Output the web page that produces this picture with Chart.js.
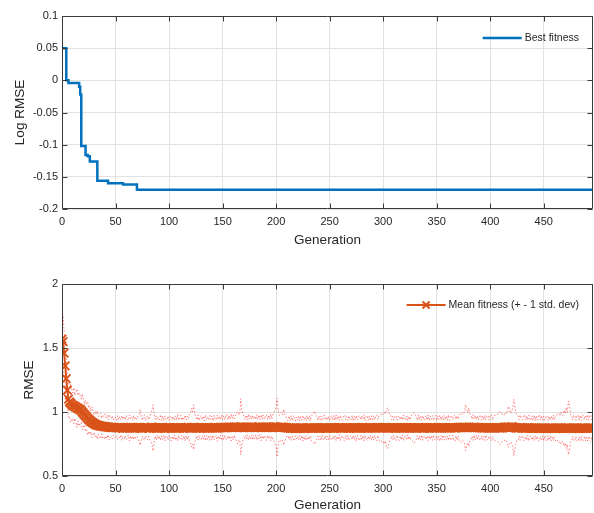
<!DOCTYPE html>
<html><head><meta charset="utf-8">
<script src="https://cdn.jsdelivr.net/npm/chart.js@4.4.1/dist/chart.umd.min.js"></script>
<style>html,body{margin:0;padding:0;background:#fff;width:594px;height:513px;overflow:hidden;} canvas{position:absolute;left:0;display:block;}</style>
</head><body>
<canvas id="c1" width="594" height="256" style="top:0"></canvas>
<canvas id="c2" width="594" height="257" style="top:256px"></canvas>
<script>
// ---------- data ----------
const xTicks = [0, 50, 100, 150, 200, 250, 300, 350, 400, 450];
const xLabels = ['0', '50', '100', '150', '200', '250', '300', '350', '400', '450'];
const topYTicks = [-0.2, -0.15, -0.1, -0.05, 0, 0.05, 0.1];
const topYLabels = ['-0.2', '-0.15', '-0.1', '-0.05', '0', '0.05', '0.1'];
const bottomYTicks = [0.5, 1, 1.5, 2];
const bottomYLabels = ['0.5', '1', '1.5', '2'];

// best fitness: generation where value changes, and the value (log RMSE)
const bestGen = [0, 4, 6, 16, 17, 18, 22, 24, 26, 33, 43, 57, 70, 496];
const bestVal = [0.05, 0.0, -0.004, -0.01, -0.022, -0.102, -0.116, -0.118, -0.126, -0.156, -0.160, -0.162, -0.170, -0.170];

// mean fitness per generation (RMSE)
const meanFitness = [
1.57,1.55,1.46,1.36,1.26,1.17,1.10,1.08,1.07,1.06,
1.05,1.05,1.04,1.04,1.03,1.03,1.02,1.02,1.01,1.00,
0.99,0.98,0.97,0.96,0.95,0.94,0.935,0.925,0.92,0.915,
0.91,0.905,0.90,0.898,0.895,0.892,0.89,0.889,0.887,0.886,
0.885,0.884,0.883,0.882,0.881,0.880,0.879,0.880,0.878,0.879,
0.878,0.876,0.879,0.874,0.877,0.880,0.875,0.873,0.878,0.876,
0.879,0.874,0.877,0.875,0.881,0.876,0.873,0.878,0.875,0.877,
0.874,0.879,0.876,0.880,0.875,0.873,0.877,0.879,0.874,0.876,
0.878,0.875,0.873,0.879,0.882,0.876,0.874,0.877,0.875,0.878,
0.873,0.876,0.879,0.874,0.877,0.875,0.872,0.878,0.876,0.874,
0.877,0.879,0.873,0.876,0.874,0.878,0.875,0.872,0.877,0.876,
0.874,0.879,0.876,0.873,0.878,0.875,0.877,0.874,0.880,0.876,
0.873,0.878,0.875,0.881,0.877,0.874,0.876,0.879,0.875,0.873,
0.877,0.875,0.878,0.874,0.876,0.879,0.873,0.877,0.875,0.878,
0.876,0.874,0.879,0.875,0.877,0.873,0.878,0.876,0.880,0.877,
0.879,0.876,0.881,0.878,0.880,0.877,0.882,0.879,0.881,0.878,
0.880,0.883,0.879,0.881,0.878,0.882,0.880,0.884,0.879,0.881,
0.878,0.880,0.882,0.879,0.881,0.877,0.880,0.883,0.879,0.881,
0.878,0.882,0.880,0.879,0.883,0.881,0.878,0.880,0.882,0.879,
0.881,0.878,0.880,0.883,0.879,0.881,0.878,0.882,0.885,0.880,
0.882,0.879,0.881,0.878,0.880,0.883,0.879,0.881,0.877,0.880,
0.876,0.874,0.877,0.873,0.875,0.872,0.876,0.874,0.871,0.875,
0.873,0.876,0.872,0.874,0.877,0.873,0.875,0.871,0.874,0.876,
0.873,0.877,0.874,0.876,0.872,0.875,0.878,0.874,0.876,0.873,
0.877,0.875,0.873,0.876,0.874,0.878,0.875,0.872,0.876,0.874,
0.877,0.874,0.876,0.873,0.878,0.875,0.877,0.874,0.876,0.879,
0.875,0.873,0.877,0.874,0.876,0.878,0.874,0.877,0.875,0.873,
0.876,0.878,0.874,0.877,0.875,0.873,0.878,0.876,0.874,0.877,
0.875,0.879,0.876,0.874,0.877,0.875,0.873,0.878,0.876,0.874,
0.877,0.875,0.878,0.874,0.876,0.879,0.875,0.877,0.874,0.876,
0.878,0.875,0.880,0.876,0.874,0.877,0.875,0.878,0.876,0.874,
0.877,0.875,0.873,0.878,0.876,0.874,0.877,0.875,0.879,0.876,
0.874,0.877,0.875,0.878,0.876,0.873,0.877,0.875,0.878,0.876,
0.874,0.877,0.875,0.879,0.876,0.874,0.877,0.875,0.873,0.876,
0.878,0.875,0.877,0.874,0.876,0.879,0.875,0.877,0.874,0.876,
0.875,0.878,0.876,0.874,0.877,0.875,0.879,0.876,0.874,0.877,
0.875,0.878,0.876,0.874,0.877,0.879,0.876,0.874,0.878,0.876,
0.879,0.877,0.880,0.878,0.882,0.879,0.881,0.878,0.880,0.877,
0.881,0.878,0.880,0.877,0.879,0.882,0.878,0.880,0.877,0.879,
0.876,0.878,0.875,0.877,0.874,0.876,0.878,0.875,0.877,0.874,
0.876,0.878,0.875,0.877,0.874,0.876,0.879,0.875,0.877,0.874,
0.877,0.875,0.878,0.880,0.882,0.879,0.881,0.884,0.880,0.878,
0.885,0.881,0.879,0.877,0.875,0.877,0.874,0.876,0.878,0.875,
0.877,0.874,0.876,0.873,0.875,0.877,0.874,0.876,0.873,0.875,
0.872,0.875,0.873,0.876,0.874,0.872,0.875,0.873,0.876,0.874,
0.872,0.875,0.873,0.871,0.874,0.872,0.875,0.873,0.876,0.874,
0.872,0.875,0.873,0.876,0.874,0.872,0.875,0.873,0.871,0.874,
0.872,0.875,0.873,0.876,0.874,0.872,0.875,0.873,0.876,0.874,
0.872,0.875,0.873,0.871,0.874,0.872,0.875,0.873,0.876,0.874,
0.872,0.875,0.873,0.876,0.874,0.872,0.875
];

// standard deviation per generation
const stdFitness = [
0.20,0.21,0.17,0.15,0.16,0.13,0.14,0.11,0.15,0.12,
0.10,0.14,0.09,0.12,0.15,0.10,0.13,0.11,0.09,0.14,
0.11,0.08,0.12,0.10,0.13,0.09,0.11,0.08,0.12,0.09,
0.07,0.10,0.08,0.11,0.07,0.09,0.10,0.06,0.09,0.08,
0.10,0.07,0.09,0.06,0.10,0.08,0.07,0.09,0.06,0.08,
0.080,0.060,0.092,0.066,0.085,0.058,0.097,0.070,0.088,0.062,
0.094,0.072,0.057,0.101,0.068,0.090,0.061,0.096,0.065,0.083,
0.067,0.092,0.105,0.140,0.095,0.062,0.087,0.099,0.060,0.081,
0.093,0.064,0.089,0.110,0.130,0.180,0.115,0.066,0.094,0.059,
0.086,0.063,0.100,0.061,0.091,0.056,0.097,0.069,0.062,0.094,
0.058,0.084,0.099,0.063,0.090,0.057,0.095,0.066,0.104,0.060,
0.082,0.096,0.059,0.088,0.064,0.100,0.061,0.092,0.067,0.105,
0.115,0.150,0.125,0.175,0.105,0.090,0.062,0.098,0.058,0.086,
0.095,0.064,0.091,0.057,0.101,0.063,0.088,0.060,0.097,0.066,
0.093,0.056,0.096,0.069,0.061,0.103,0.064,0.090,0.059,0.099,
0.063,0.094,0.060,0.089,0.100,0.062,0.092,0.066,0.106,0.070,
0.096,0.064,0.090,0.110,0.125,0.105,0.095,0.220,0.145,0.098,
0.090,0.062,0.094,0.058,0.101,0.066,0.092,0.061,0.098,0.065,
0.089,0.060,0.099,0.064,0.093,0.057,0.102,0.065,0.094,0.062,
0.090,0.100,0.061,0.093,0.065,0.105,0.068,0.097,0.110,0.135,
0.160,0.230,0.125,0.095,0.105,0.115,0.098,0.140,0.105,0.092,
0.064,0.058,0.092,0.062,0.096,0.060,0.087,0.099,0.058,0.085,
0.063,0.094,0.057,0.090,0.061,0.100,0.064,0.092,0.059,0.097,
0.065,0.093,0.058,0.100,0.105,0.115,0.130,0.100,0.088,0.061,
0.092,0.063,0.095,0.058,0.087,0.098,0.061,0.090,0.064,0.095,
0.057,0.086,0.097,0.062,0.092,0.060,0.100,0.064,0.094,0.056,
0.099,0.065,0.060,0.093,0.102,0.062,0.089,0.058,0.096,0.066,
0.061,0.094,0.057,0.092,0.064,0.100,0.060,0.088,0.098,0.061,
0.093,0.064,0.103,0.059,0.089,0.099,0.062,0.092,0.058,0.096,
0.064,0.095,0.061,0.090,0.101,0.062,0.093,0.100,0.110,0.098,
0.115,0.125,0.105,0.135,0.160,0.140,0.100,0.095,0.064,0.092,
0.060,0.090,0.098,0.059,0.088,0.096,0.063,0.092,0.058,0.100,
0.066,0.061,0.094,0.057,0.090,0.064,0.097,0.100,0.110,0.120,
0.100,0.090,0.060,0.099,0.062,0.093,0.058,0.096,0.066,0.061,
0.094,0.062,0.100,0.059,0.091,0.064,0.097,0.058,0.089,0.098,
0.060,0.093,0.064,0.101,0.061,0.092,0.059,0.096,0.065,0.093,
0.061,0.099,0.059,0.090,0.097,0.062,0.093,0.103,0.064,0.095,
0.066,0.098,0.105,0.115,0.100,0.105,0.125,0.180,0.140,0.115,
0.150,0.105,0.097,0.067,0.100,0.063,0.096,0.062,0.094,0.060,
0.091,0.099,0.061,0.093,0.064,0.098,0.059,0.090,0.096,0.062,
0.093,0.101,0.063,0.095,0.100,0.097,0.105,0.105,0.115,0.130,
0.125,0.105,0.100,0.098,0.115,0.105,0.130,0.160,0.140,0.110,
0.125,0.150,0.220,0.170,0.115,0.100,0.097,0.064,0.099,0.067,
0.062,0.096,0.102,0.064,0.094,0.060,0.100,0.067,0.061,0.095,
0.064,0.099,0.058,0.093,0.062,0.097,0.104,0.064,0.095,0.061,
0.094,0.060,0.091,0.101,0.059,0.093,0.063,0.097,0.065,0.099,
0.066,0.100,0.105,0.097,0.115,0.100,0.125,0.105,0.100,0.140,
0.115,0.160,0.125,0.210,0.180,0.105,0.099,0.064,0.096,0.102,
0.063,0.097,0.104,0.066,0.099,0.062,0.105,0.095,0.064,0.100,
0.067,0.102,0.063,0.097,0.104,0.065,0.099
];

const generations = meanFitness.map((_, i) => i);
const upperStd = meanFitness.map((m, i) => m + stdFitness[i]);
const lowerStd = meanFitness.map((m, i) => m - stdFitness[i]);

// ---------- styling helpers ----------
const FONT = '"Liberation Sans", Arial, Helvetica, sans-serif';
const TXT = '#262626';
const GRID = '#e2e2e2';

const boxPlugin = {
  id: 'mlBox',
  afterDraw(chart) {
    const {ctx, chartArea: a, scales: {x, y}} = chart;
    const L = Math.round(a.left) + 0.5, R = Math.round(a.right) - 0.5;
    const T = Math.round(a.top) + 0.5, B = Math.round(a.bottom) - 0.5;
    ctx.save();
    ctx.strokeStyle = '#3a3a3a';
    ctx.lineWidth = 1;
    ctx.beginPath();
    x.ticks.forEach(t => {
      const px = Math.round(x.getPixelForValue(t.value)) + 0.5;
      ctx.moveTo(px, B); ctx.lineTo(px, B - 5);
      ctx.moveTo(px, T); ctx.lineTo(px, T + 5);
    });
    y.ticks.forEach(t => {
      const py = Math.round(y.getPixelForValue(t.value)) + 0.5;
      ctx.moveTo(L, py); ctx.lineTo(L + 5, py);
      ctx.moveTo(R, py); ctx.lineTo(R - 5, py);
    });
    ctx.moveTo(L, T); ctx.lineTo(R, T); ctx.lineTo(R, B); ctx.lineTo(L, B); ctx.closePath();
    ctx.stroke();
    ctx.restore();
  }
};

const legendPlugin = {
  id: 'mlLegend',
  afterDraw(chart, args, opts) {
    const {ctx, chartArea: a} = chart;
    const ds = chart.data.datasets[0];
    ctx.save();
    ctx.font = '10.5px ' + FONT;
    const tw = ctx.measureText(ds.label).width;
    const tx = a.right - opts.rightGap - tw;
    const y = a.top + opts.dy;
    ctx.fillStyle = TXT;
    ctx.textBaseline = 'middle';
    ctx.textAlign = 'left';
    ctx.fillText(ds.label, tx, y);
    const x1 = tx - 3, x0 = x1 - 39;
    ctx.strokeStyle = ds.borderColor;
    ctx.lineWidth = opts.marker ? 2 : ds.borderWidth;
    ctx.beginPath(); ctx.moveTo(x0, y); ctx.lineTo(x1, y); ctx.stroke();
    if (opts.marker) {
      const cx = (x0 + x1) / 2, r = 3.5;
      ctx.lineWidth = 2;
      ctx.beginPath();
      ctx.moveTo(cx - r, y - r); ctx.lineTo(cx + r, y + r);
      ctx.moveTo(cx - r, y + r); ctx.lineTo(cx + r, y - r);
      ctx.stroke();
    }
    ctx.restore();
  }
};

function xScale(titleBottomPad, height) {
  return {
    type: 'linear', min: 0, max: 496,
    afterBuildTicks: s => { s.ticks = xTicks.map(v => ({value: v})); },
    afterFit: s => { s.height = height; },
    ticks: { callback: (v, i) => xLabels[i], color: TXT, font: {family: FONT, size: 11}, padding: 6, maxRotation: 0, autoSkip: false },
    grid: { color: GRID, drawTicks: false, lineWidth: 1 },
    border: { display: false },
    title: { display: true, text: 'Generation', color: TXT, font: {family: FONT, size: 13.5}, padding: {top: 0, bottom: titleBottomPad} }
  };
}
function yScale(min, max, ticksArr, labelsArr, title, titlePad) {
  return {
    type: 'linear', min: min, max: max,
    afterBuildTicks: s => { s.ticks = ticksArr.map(v => ({value: v})); },
    afterFit: s => { s.width = 62; },
    ticks: { callback: (v, i) => labelsArr[i], color: TXT, font: {family: FONT, size: 11}, padding: 4, autoSkip: false },
    grid: { color: GRID, drawTicks: false, lineWidth: 1 },
    border: { display: false },
    title: { display: true, text: title, color: TXT, font: {family: FONT, size: 13.5}, padding: {top: titlePad, bottom: 0} }
  };
}

const common = {
  responsive: false, animation: false, devicePixelRatio: 1,
  events: [],
  plugins: { legend: { display: false }, tooltip: { enabled: false } }
};

// ---------- top chart ----------
new Chart(document.getElementById('c1'), {
  type: 'line',
  data: {
    datasets: [{
      label: 'Best fitness',
      data: bestGen.map((g, i) => ({x: g, y: bestVal[i]})),
      borderColor: '#0072BD', borderWidth: 2.5, pointRadius: 0, stepped: 'before', fill: false
    }]
  },
  options: Object.assign({}, common, {
    layout: { autoPadding: false, padding: { top: 16, right: 1, left: 0, bottom: 0 } },
    scales: { x: xScale(8, 47), y: yScale(-0.2, 0.1, topYTicks, topYLabels, 'Log RMSE', 12) },
    plugins: Object.assign({}, common.plugins, { mlLegend: { rightGap: 14, dy: 22, marker: false } })
  }),
  plugins: [boxPlugin, legendPlugin]
});

// ---------- bottom chart ----------
new Chart(document.getElementById('c2'), {
  type: 'line',
  data: {
    labels: generations,
    datasets: [
      {
        label: 'Mean fitness (+ - 1 std. dev)',
        data: meanFitness,
        borderColor: '#D95319', borderWidth: 2,
        pointStyle: 'crossRot', pointRadius: 6, pointBorderWidth: 1.8,
        pointBorderColor: '#D95319', pointBackgroundColor: '#D95319', fill: false
      },
      {
        label: 'upper', data: upperStd,
        borderColor: 'rgba(255,20,20,0.55)', borderWidth: 1, borderDash: [1.5, 2], pointRadius: 0, fill: false
      },
      {
        label: 'lower', data: lowerStd,
        borderColor: 'rgba(255,20,20,0.55)', borderWidth: 1, borderDash: [1.5, 2], pointRadius: 0, fill: false
      }
    ]
  },
  options: Object.assign({}, common, {
    layout: { autoPadding: false, padding: { top: 28, right: 1, left: 0, bottom: 0 } },
    scales: { x: xScale(0, 37), y: yScale(0.5, 2, bottomYTicks, bottomYLabels, 'RMSE', 21) },
    plugins: Object.assign({}, common.plugins, { mlLegend: { rightGap: 14, dy: 21, marker: true } })
  }),
  plugins: [boxPlugin, legendPlugin]
});
</script>
</body></html>
